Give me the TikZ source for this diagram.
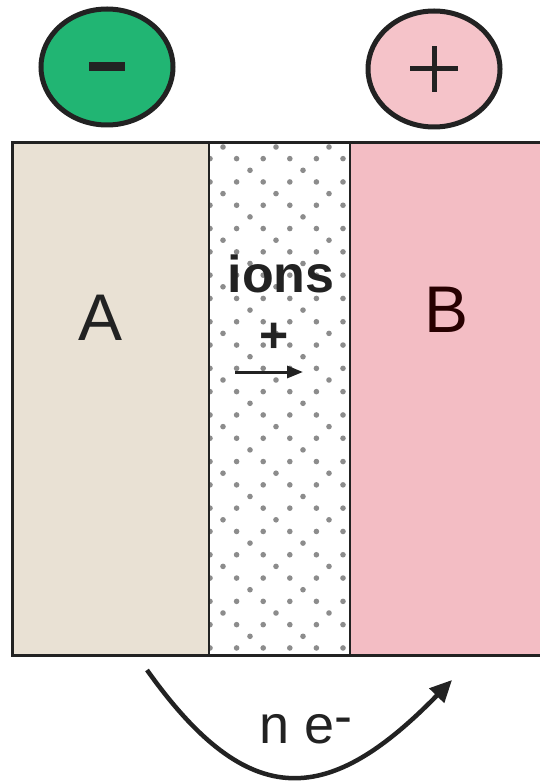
\documentclass[tikz,border=0pt]{standalone}
\usepackage{fontspec}
\setmainfont{Liberation Sans}
\usetikzlibrary{shapes.geometric,arrows.meta}
\definecolor{termneg}{HTML}{21B573}
\definecolor{termpos}{HTML}{F5C3C9}
\definecolor{anodefill}{HTML}{E9E1D4}
\definecolor{cathodefill}{HTML}{F3BDC4}
\definecolor{inkdark}{HTML}{222222}
\definecolor{dotgray}{HTML}{8C8C8C}
\tikzset{
  terminal/.style={ellipse, draw=inkdark, line width=5pt, minimum width=132pt, minimum height=116pt, inner sep=0pt, outer sep=0pt},
  electrode/.style={draw=inkdark, line width=2pt},
  bigletter/.style={text=inkdark, font=\fontsize{66}{66}\selectfont, inner sep=0pt},
  ionlabel/.style={text=inkdark, font=\bfseries\fontsize{52}{52}\selectfont, inner sep=0pt},
  dotmark/.style={fill=dotgray},
  flow/.style={inkdark, line width=4.5pt, -{Triangle[length=22pt,width=20pt]}}
}

\begin{document}
\begin{tikzpicture}[x=1pt, y=-1pt]
  \useasboundingbox (0,0) rectangle (539,783);
  \fill[white] (0,0) rectangle (539,783);

  % terminals
  \node[terminal, fill=termneg] (neg) at (107,67) {};
  \node[terminal, fill=termpos] (pos) at (434,69) {};
  \fill[inkdark] (neg.center) ++(-18,-4.5) rectangle ++(36,9);
  \fill[inkdark] (pos.center) ++(-24,-2.5) rectangle ++(48,5);
  \fill[inkdark] (pos.center) ++(-2.5,-23) rectangle ++(5,46);

  % electrodes and electrolyte
  \fill[anodefill] (12,143) rectangle (209,655);
  \fill[cathodefill] (350,143) rectangle (545,655);
  \begin{scope}
    \clip (210,144) rectangle (349,654);
    \foreach \row in {0,...,43} {
      \pgfmathtruncatemacro{\phase}{mod(\row,4)}
      \ifodd\row
        \foreach \col in {0,...,5}
          \fill[dotmark] ({210+26.6*\col},{147+11.65*\row}) circle (2.8);
      \else
        \pgfmathsetmacro{\xzero}{\phase==0 ? 223 : 250}
        \foreach \col in {0,...,2}
          \fill[dotmark] ({\xzero+53*\col},{147+11.65*\row}) circle (2.8);
      \fi
    }
  \end{scope}
  \draw[electrode] (209,143) -- (209,655);
  \draw[electrode] (350,143) -- (350,655);
  \draw[inkdark, line width=3pt] (545,143) -- (12,143) -- (12,655) -- (545,655);

  \node[bigletter] (letA) at (101,318) {A};
  \node[bigletter, text=black!85!red] (letB) at (447,310) {B};
  \node[ionlabel, anchor=base] (ions) at (281,292) {ions};
  \node[ionlabel, font=\bfseries\fontsize{50}{50}\selectfont] (cation) at (274,338) {+};
  \coordinate (drift0) at (235,372);
  \coordinate (drift1) at (303,372);
  \draw[inkdark, line width=3pt, -{Triangle[length=16pt,width=12pt]}] (drift0) -- (drift1);

  % external electron flow
  \coordinate (estart) at (147,670);
  \coordinate (eend) at (452,680);
  \draw[flow] (estart) .. controls (250,815) and (330,805) .. (eend);
  \node[text=inkdark, font=\fontsize{54}{54}\selectfont, inner sep=0pt] (elec) at (306,729) {n e$^{\mbox{-}}$};
\end{tikzpicture}
\end{document}
